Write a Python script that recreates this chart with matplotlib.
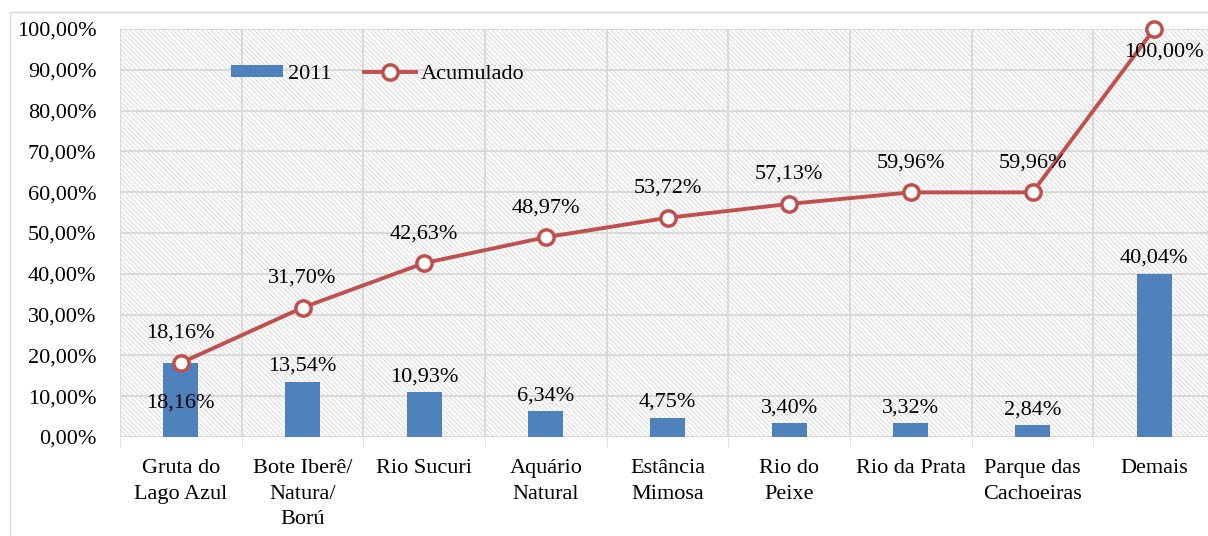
import matplotlib.pyplot as plt
from matplotlib.patches import Rectangle
from matplotlib.ticker import FuncFormatter, MultipleLocator

categorias = ["Gruta do\nLago Azul", "Bote Iberê/\nNatura/\nBorú", "Rio Sucuri",
              "Aquário\nNatural", "Estância\nMimosa", "Rio do\nPeixe",
              "Rio da Prata", "Parque das\nCachoeiras", "Demais"]
v2011 = [18.16, 13.54, 10.93, 6.34, 4.75, 3.40, 3.32, 2.84, 40.04]
acumulado = [18.16, 31.70, 42.63, 48.97, 53.72, 57.13, 59.96, 59.96, 100.00]

azul = "#4F81BD"
vermelho = "#C0504D"
grade = "#D9D9D9"

plt.rcParams["font.family"] = ["Liberation Serif", "DejaVu Serif"]
plt.rcParams["font.size"] = 16
plt.rcParams["hatch.linewidth"] = 0.9

fig = plt.figure(figsize=(12.08, 5.36), dpi=100)
fig.patches.append(Rectangle((10 / 1208, -0.1), 1.2, 1 - 12 / 536 + 0.1,
                             transform=fig.transFigure, fill=False,
                             edgecolor=grade, linewidth=1))
ax = fig.add_axes([120 / 1208, 1 - 437 / 536, 1095 / 1208, 408 / 536])

ax.add_patch(Rectangle((0, 0), 1, 1, transform=ax.transAxes, facecolor="white",
                       hatch="\\" * 7, edgecolor="#E0E0E0", linewidth=0, zorder=0))
ax.set_facecolor("white")

x = list(range(len(categorias)))
barras = ax.bar(x, v2011, width=0.29, color=azul, zorder=3, label="2011")
linha, = ax.plot(x, acumulado, color=vermelho, linewidth=2.8, marker="o", markersize=11,
                 markerfacecolor="white", markeredgecolor=vermelho, markeredgewidth=2.5,
                 zorder=4, label="Acumulado", clip_on=False)

for i, v in enumerate(v2011):
    txt = f"{v:.2f}%".replace(".", ",")
    if i == 0:
        ax.text(i, v - 9.8, txt, ha="center", va="center", zorder=5)
    else:
        ax.text(i, v + 3.8, txt, ha="center", va="center", zorder=5)

for i, v in enumerate(acumulado):
    txt = f"{v:.2f}%".replace(".", ",")
    if i == len(acumulado) - 1:
        ax.text(i + 0.08, v - 5.6, txt, ha="center", va="center", zorder=5)
    else:
        ax.text(i, v + 7.2, txt, ha="center", va="center", zorder=5)

ax.set_xlim(-0.5, len(categorias) - 0.5)
ax.set_ylim(0, 100)
ax.yaxis.set_major_locator(MultipleLocator(10))
ax.yaxis.set_major_formatter(FuncFormatter(lambda v, p: f"{v:.2f}%".replace(".", ",")))
ax.set_xticks(x)
ax.set_xticklabels(categorias, linespacing=1.45)
ax.set_xticks([i - 0.5 for i in range(len(categorias) + 1)], minor=True)
ax.tick_params(axis="x", which="major", length=0, pad=16)
ax.tick_params(axis="x", which="minor", length=7, color=grade)
ax.tick_params(axis="y", length=0, pad=17)
ax.grid(True, axis="y", color=grade, linewidth=1.4, zorder=1)
ax.grid(True, axis="x", which="minor", color=grade, linewidth=1.4, zorder=1)
for s in ax.spines.values():
    s.set_visible(False)
ax.axhline(0, color=grade, linewidth=1.5, zorder=2)

ax.legend([barras, linha], ["2011", "Acumulado"], loc="upper left",
          bbox_to_anchor=(100 / 1095, 0.94), ncol=2, frameon=False, borderpad=0,
          handlelength=2.35, handleheight=0.45, columnspacing=1.45, handletextpad=0.22)

fig.savefig("out.png", dpi=100)
